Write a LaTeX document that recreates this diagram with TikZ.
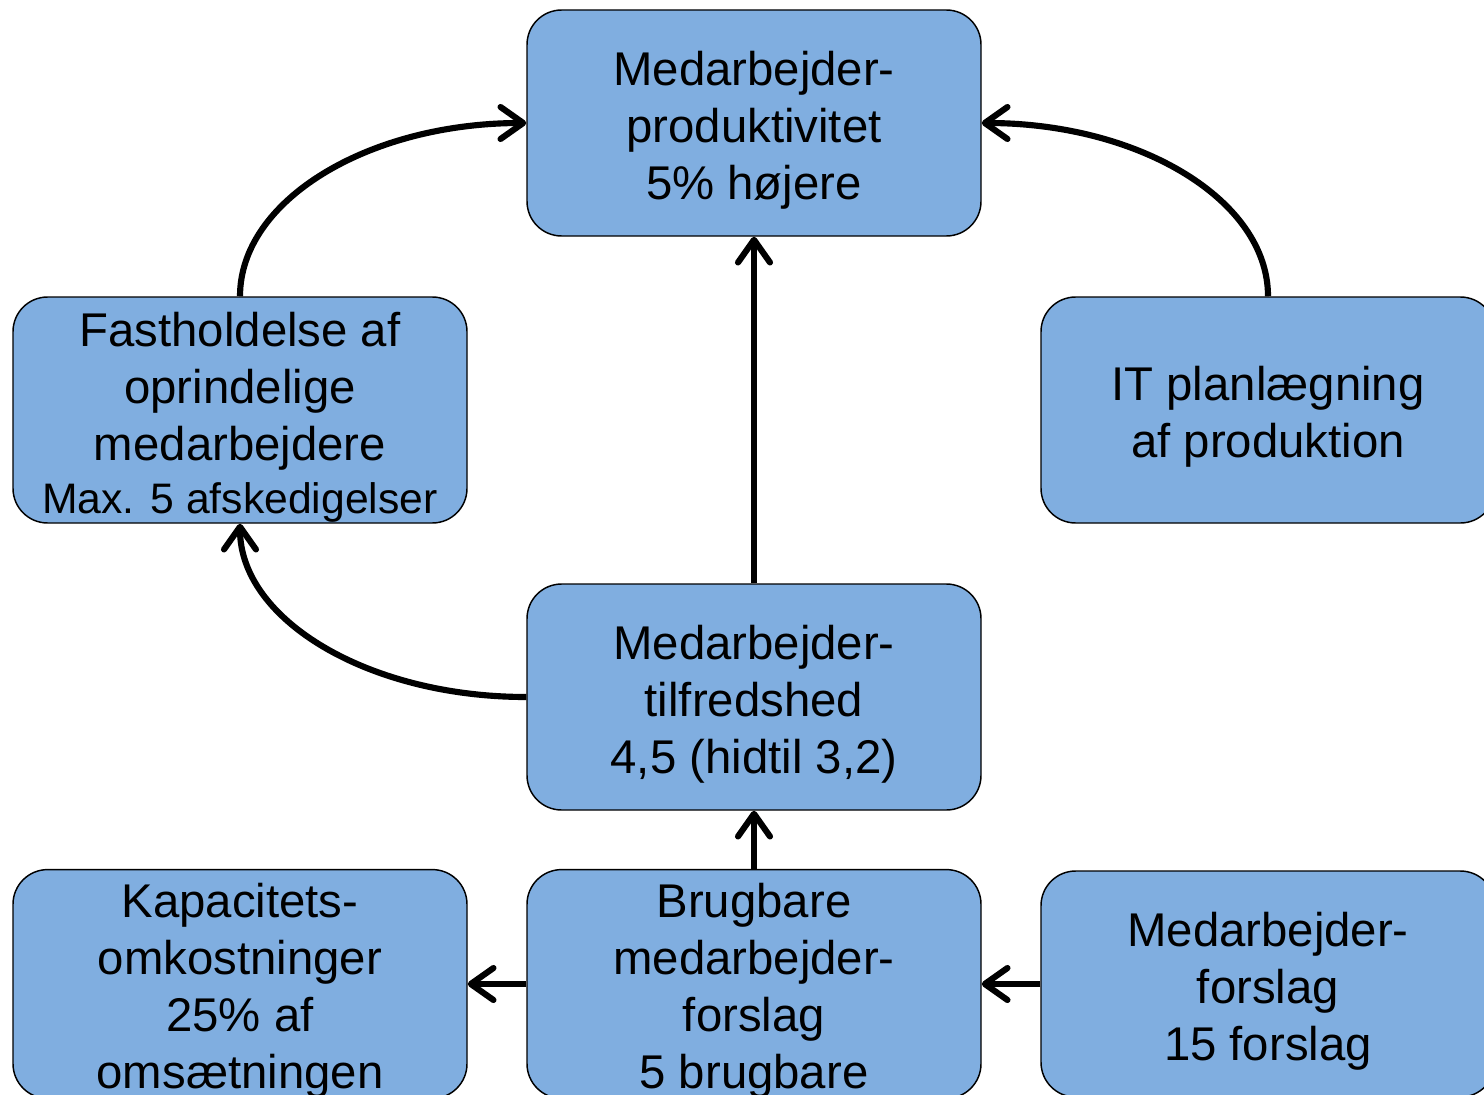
\documentclass[tikz,border=0pt]{standalone}
\usepackage{fontspec}
\setmainfont{Liberation Sans}
\usetikzlibrary{arrows.meta}
\definecolor{boxblue}{RGB}{128,174,224}
% uniform height for the first line of every box text
\newcommand{\firstline}{\rule{0pt}{36pt}}
\begin{document}
\begin{tikzpicture}[x=0.75pt,y=-0.75pt,
  box/.style={draw=black,line width=1.1pt,fill=boxblue,rounded corners=26pt,
    minimum width=340.5pt,minimum height=169.5pt,inner sep=0pt,align=center,
    font=\fontsize{35.5}{42.75}\selectfont},
  link/.style={line width=4.6pt,-{Straight Barb[length=17pt,width=24pt,line cap=round,line join=round]}}]
\useasboundingbox (0,0) rectangle (1484,1095);
\clip (0,0) rectangle (1484,1095);

% boxes
\node[box] (prod) at (754,123) {\firstline Medarbejder-\\produktivitet\\5\% højere};
\node[box] (fast) at (240,410) {\firstline Fastholdelse af\\oprindelige\\medarbejdere\\[-3pt]{\fontsize{32}{38}\selectfont Max. 5 afskedigelser}};
\node[box] (it) at (1268,410) {\firstline IT planlægning\\af produktion};
\node[box] (tilf) at (754,697) {\firstline Medarbejder-\\tilfredshed\\4,5 (hidtil 3,2)};
\node[box] (kap) at (240,984) {\firstline Kapacitets-\\omkostninger\\25\% af\\omsætningen};
\node[box] (brug) at (754,984) {\firstline Brugbare\\medarbejder-\\forslag\\5 brugbare};
\node[box] (fors) at (1268,984) {\firstline Medarbejder-\\forslag\\15 forslag};

% connectors
\draw[link] (fast.north) .. controls +(0,-96) and +(-158,0) .. (prod.west);
\draw[link] (it.north) .. controls +(0,-96) and +(158,0) .. (prod.east);
\draw[link] (tilf.west) .. controls +(-158,0) and +(0,96) .. (fast.south);
\draw[link] (tilf.north) -- (prod.south);
\draw[link] (brug.north) -- (tilf.south);
\draw[link] (brug.west) -- (kap.east);
\draw[link] (fors.west) -- (brug.east);
\end{tikzpicture}
\end{document}
